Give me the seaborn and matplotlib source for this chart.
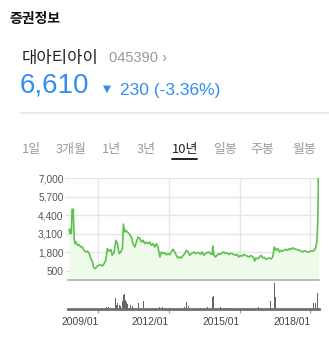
import matplotlib
matplotlib.use("Agg")
import matplotlib.pyplot as plt
import seaborn as sns
import pandas as pd
from matplotlib.lines import Line2D

# ---------------- data ----------------
title = "증권정보"
stock_name = "대아티아이"
stock_code = "045390 ›"
price_now = "6,610"
change_text = "230 (-3.36%)"
tabs = ["1일", "3개월", "1년", "3년", "10년", "일봉", "주봉", "월봉"]
active_tab = "10년"

price_t = [2007.756, 2007.80, 2007.83, 2007.85, 2007.88, 2007.93, 2007.97, 2008.00,
           2008.04, 2008.11, 2008.18, 2008.25, 2008.32, 2008.39, 2008.46, 2008.53,
           2008.61, 2008.68, 2008.75, 2008.79, 2008.85, 2008.89, 2008.96, 2009.03,
           2009.10, 2009.17, 2009.24, 2009.31, 2009.38, 2009.45, 2009.53, 2009.59,
           2009.67, 2009.74, 2009.81, 2009.88, 2009.95, 2010.02, 2010.06, 2010.12,
           2010.16, 2010.23, 2010.30, 2010.40, 2010.47, 2010.55, 2010.61, 2010.69,
           2010.76, 2010.83, 2010.90, 2010.97, 2011.04, 2011.11, 2011.18, 2011.25,
           2011.32, 2011.39, 2011.46, 2011.53, 2011.61, 2011.68, 2011.75, 2011.82,
           2011.89, 2011.96, 2012.03, 2012.10, 2012.17, 2012.24, 2012.31, 2012.38,
           2012.46, 2012.52, 2012.60, 2012.67, 2012.74, 2012.81, 2012.88, 2012.95,
           2013.06, 2013.12, 2013.19, 2013.26, 2013.33, 2013.40, 2013.48, 2013.54,
           2013.62, 2013.69, 2013.76, 2013.83, 2013.86, 2013.90, 2013.97, 2014.04,
           2014.11, 2014.18, 2014.25, 2014.32, 2014.39, 2014.46, 2014.54, 2014.61,
           2014.68, 2014.75, 2014.82, 2014.89, 2014.96, 2015.03, 2015.10, 2015.17,
           2015.24, 2015.31, 2015.39, 2015.46, 2015.53, 2015.60, 2015.64, 2015.70,
           2015.78, 2015.84, 2015.91, 2015.98, 2016.05, 2016.12, 2016.19, 2016.26,
           2016.33, 2016.41, 2016.47, 2016.55, 2016.62, 2016.69, 2016.76, 2016.83,
           2016.90, 2016.97, 2017.04, 2017.11, 2017.18, 2017.25, 2017.33, 2017.40,
           2017.47, 2017.54, 2017.61, 2017.68, 2017.75, 2017.82, 2017.89, 2017.96,
           2018.04, 2018.11, 2018.17, 2018.22, 2018.28, 2018.32, 2018.34, 2018.35,
           2018.36]
price_v = [3400, 3103, 3455, 3103, 4819, 4819, 2751, 2400,
           2519, 2286, 2330, 2167, 2167, 1935, 1815, 1880,
           1696, 1344, 1110, 760, 640, 700, 830, 880,
           920, 830, 990, 1230, 2047, 1865, 1990, 1583,
           1815, 2638, 2400, 1696, 1815, 2050, 3780, 3222,
           3340, 3222, 3103, 2870, 2400, 2167, 2519, 2870,
           2750, 2519, 2640, 2400, 2519, 2400, 2519, 2290,
           2400, 2167, 2400, 2167, 1463, 1815, 1700, 1760,
           1620, 1700, 1620, 1815, 2005, 1815, 1583, 1393,
           1463, 1393, 1583, 1700, 1935, 1815, 1583, 1700,
           1815, 1700, 1780, 1750, 1660, 1815, 1583, 1700,
           1760, 1815, 1700, 1640, 2237, 1640, 1463, 1583,
           1700, 1640, 1760, 1815, 1700, 1760, 1640, 1720,
           1700, 1640, 1583, 1650, 1463, 1560, 1520, 1640,
           1583, 1520, 1463, 1560, 1520, 1393, 1180, 1393,
           1344, 1463, 1583, 1393, 1440, 1300, 1350, 1393,
           1330, 1463, 2167, 1935, 2050, 1815, 1935, 1870,
           1960, 2005, 1930, 2050, 1990, 2100, 2040, 2005,
           1960, 1935, 1880, 1815, 1900, 1870, 1800, 1815,
           1900, 1870, 1950, 2050, 2519, 3926, 6036, 6970,
           6610]

vol_t = [2009.36, 2009.41, 2009.45, 2009.74, 2009.78, 2009.81, 2009.88, 2009.95,
         2010.02, 2010.06, 2010.09, 2010.13, 2010.16, 2010.19, 2010.23, 2010.30,
         2010.35, 2010.44, 2010.69, 2010.90, 2011.44, 2011.58, 2011.72, 2012.07,
         2012.64, 2012.75, 2012.81, 2013.62, 2013.83, 2013.90, 2014.08, 2014.18,
         2014.39, 2014.54, 2015.03, 2015.24, 2015.81, 2016.33, 2016.47, 2016.52,
         2016.63, 2018.15, 2018.22, 2018.29, 2018.32]
vol_v = [27, 27, 27, 110, 40, 60, 43, 30,
         87, 143, 153, 127, 93, 70, 53, 27,
         43, 33, 60, 87, 10, 20, 20, 10,
         27, 77, 33, 20, 127, 133, 33, 20,
         10, 10, 10, 10, 27, 87, 267, 127,
         20, 67, 60, 110, 160]

y_ticks = [500, 1800, 3100, 4400, 5700, 7000]
y_tick_labels = ["500", "1,800", "3,100", "4,400", "5,700", "7,000"]
x_ticks = [2009.0, 2012.0, 2015.0, 2018.0]
x_tick_labels = ["2009/01", "2012/01", "2015/01", "2018/01"]

# ---------------- style ----------------
sns.set_theme(style="white")
plt.rcParams['font.family'] = ['Liberation Sans', 'Noto Sans CJK KR', 'DejaVu Sans']

W, H = 329, 344
fig = plt.figure(figsize=(W / 100, H / 100), dpi=100)
fig.patch.set_facecolor("white")

def fx(x):
    return x / W

def fy(y):
    return 1 - y / H

KR = ['Noto Sans CJK KR', 'DejaVu Sans']
NUM = ['Liberation Sans', 'Noto Sans CJK KR', 'DejaVu Sans']
BLUE = "#348cf0"

# header texts
fig.text(fx(10), fy(19), title, family=KR, fontsize=10, fontweight="bold",
         color="#111111", ha="left", va="center")
fig.text(fx(22), fy(58.5), stock_name, family=KR, fontsize=12, color="#222222",
         ha="left", va="center")
fig.text(fx(109), fy(58.5), stock_code, family=NUM, fontsize=10.5, color="#999999",
         ha="left", va="center")
fig.text(fx(20), fy(86), price_now, family=NUM, fontsize=20, color=BLUE,
         ha="left", va="center")
fig.text(fx(107), fy(89), "▼", family=['DejaVu Sans'], fontsize=7.5, color=BLUE,
         ha="center", va="center")
fig.text(fx(120), fy(90), change_text, family=NUM, fontsize=12.5, color=BLUE,
         ha="left", va="center")
fig.add_artist(Line2D([fx(20), fx(329)], [fy(113.3), fy(113.3)],
                      color="#e6e6e6", lw=1.2))

tab_x = [21.5, 55.5, 101.5, 136.5, 171.5, 213, 250, 292.5]
for lab, x in zip(tabs, tab_x):
    active = lab == active_tab
    fig.text(fx(x), fy(149), lab, family=KR, fontsize=9.3,
             color="#222222" if active else "#9a9a9a",
             ha="left", va="center")
fig.add_artist(Line2D([fx(171.5), fx(197)], [fy(158.5), fy(158.5)],
                      color="#111111", lw=1.3))

# ---------------- price panel ----------------
L, R = 68.3, 318.7
top_p, bot_p = 178.3, 279.7
ax = fig.add_axes([fx(L), fy(bot_p), (R - L) / W, (bot_p - top_p) / H])
df = pd.DataFrame({"t": price_t, "price": price_v})
xmin, xmax = 2007.72, 2018.36
ymin, ymax = -134, 7000
ax.fill_between(df["t"], df["price"], ymin, color="#effbea", lw=0, zorder=1)
sns.lineplot(data=df, x="t", y="price", ax=ax, color="#5cc24d", lw=1.2,
             zorder=3, estimator=None, sort=False)
ax.set_xlim(xmin, xmax)
ax.set_ylim(ymin, ymax)
ax.set_yticks(y_ticks)
ax.set_yticklabels(y_tick_labels)
ax.set_xticks(x_ticks)
ax.set_xticklabels([])
ax.grid(True, color="#e6e6e6", lw=1)
ax.set_axisbelow(True)
ax.set_xlabel("")
ax.set_ylabel("")
for s in ["top", "right", "left"]:
    ax.spines[s].set_visible(False)
ax.spines["bottom"].set_color("#b5b5b5")
ax.spines["bottom"].set_linewidth(1.3)
ax.tick_params(axis="y", length=2.5, width=0.8, color="#dddddd", pad=1,
               labelsize=7.3, labelcolor="#555555", left=True)
ax.tick_params(axis="x", length=0)
ax.set_facecolor("none")

# ---------------- volume panel ----------------
top_v, bot_v = 281.3, 309.3
axv = fig.add_axes([fx(L), fy(bot_v), (R - L) / W, (bot_v - top_v) / H])
axv.bar(vol_t, vol_v, width=0.04, color="#666666", lw=0)
axv.set_xlim(xmin, xmax)
axv.set_ylim(0, 280)
axv.set_yticks([])
axv.set_xticks(x_ticks)
axv.set_xticklabels(x_tick_labels, ha="right")
for s in ["top", "right", "left"]:
    axv.spines[s].set_visible(False)
axv.spines["bottom"].set_color("#707070")
axv.spines["bottom"].set_linewidth(2)
axv.tick_params(axis="x", length=3, width=0.8, color="#999999", pad=2.5,
                labelsize=7.4, labelcolor="#444444", bottom=True)
axv.grid(False)
axv.set_facecolor("none")

fig.savefig("out.png", dpi=100)
